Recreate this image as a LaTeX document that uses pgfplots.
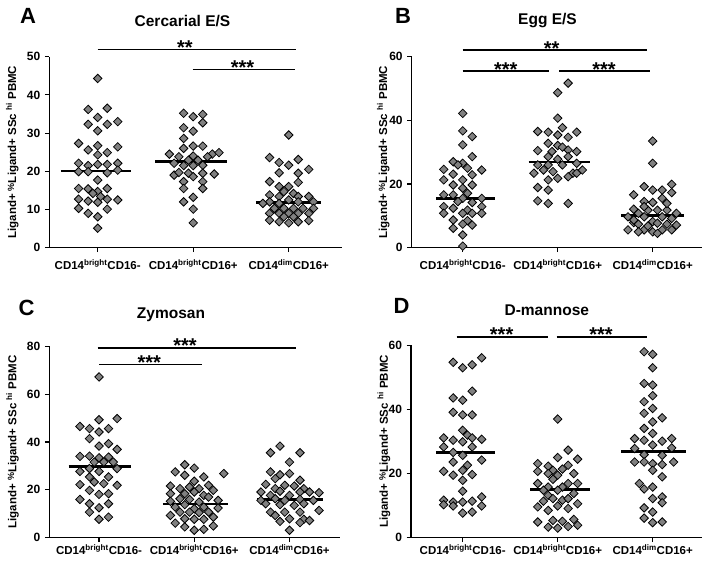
\documentclass[border=0pt]{standalone}
\usepackage{pgfplots}
\pgfplotsset{compat=1.18}
\usepackage{fontspec}
\setmainfont{Liberation Sans}
\pgfplotsset{
 gp/.style={
  scale only axis, anchor=south west,
  axis x line*=bottom, axis y line*=left,
  axis line style={line width=1.1pt,-},
  every tick/.style={black, line width=1.1pt},
  tick align=outside, major tick length=4.5pt,
  xtick={1,2,3},
  xticklabels={CD14\textsuperscript{bright}CD16-, CD14\textsuperscript{bright}CD16+, CD14\textsuperscript{dim}CD16+},
  ticklabel style={font=\bfseries\fontsize{11.5}{13}\selectfont},
  yticklabel style={font=\bfseries\fontsize{12}{13}\selectfont, xshift=-1pt},
  /pgf/number format/assume math mode=true,
  clip=false,
  ylabel={Ligand+ \raisebox{0.35ex}{\fontsize{9}{9}\selectfont\%}Ligand+ SSc \textsuperscript{hi} PBMC},
  ylabel style={anchor=center, font=\bfseries\fontsize{11.5}{13}\selectfont},
 },
 dots/.style={only marks, mark=square*, mark size=3.0pt, mark options={rotate=45, fill=gray, draw=black, line width=0.8pt}},
 med/.style={black, line width=2.6pt},
 sig/.style={black, line width=1.1pt},
}
\tikzset{stars/.style={font=\bfseries\fontsize{20}{20}\selectfont, anchor=base, inner sep=0pt, yshift=-5pt}}
\begin{document}
\begin{tikzpicture}
\useasboundingbox (0,0) rectangle (711pt,565pt);
% ---------------- A
\begin{axis}[gp, at={(49.3pt,317.3pt)}, width=292.4pt, height=191pt,
  xmin=0.493, xmax=3.555, ymin=0, ymax=50, ytick={0,10,20,30,40,50},
  xticklabel style={yshift=-4pt},
  ylabel style={at={(axis description cs:-0.1265,0.5)}}]
\addplot[dots] coordinates {
(1.00,44.3) (0.90,36.2) (1.10,36.5) (1.00,34.1) (1.21,33.0) (0.90,32.3) (1.10,32.3) (1.00,30.6) (0.80,27.3) (1.00,26.7) (1.21,26.4) (0.90,25.6) (1.10,24.9) (1.00,24.3) (0.80,22.1) (0.90,21.5) (1.00,21.8) (1.10,21.8) (1.21,22.1) (0.80,19.9) (0.90,19.9) (1.00,17.7) (1.21,20.3) (1.10,19.6) (0.80,15.5) (0.90,15.4) (1.10,15.5) (1.00,14.7) (0.95,14.2) (1.03,13.4) (1.10,12.7) (0.80,12.7) (0.90,12.2) (1.21,12.5) (1.00,11.9) (0.80,10.3) (1.10,10.1) (0.90,9.0) (1.00,8.1) (1.00,5.1)
(1.90,35.2) (2.10,34.9) (2.00,34.3) (2.10,32.7) (1.90,31.4) (2.00,30.5) (1.90,28.6) (2.00,26.6) (2.10,26.6) (1.90,26.0) (1.75,24.5) (2.20,24.5) (2.27,24.9) (1.85,23.8) (2.00,24.0) (2.15,23.8) (1.80,22.1) (1.95,22.9) (2.05,22.9) (2.10,21.6) (1.90,21.5) (1.80,19.0) (1.85,19.7) (1.95,19.5) (2.10,19.5) (2.22,19.3) (2.00,21.5) (1.90,17.3) (2.10,17.3) (2.00,18.6) (1.90,15.5) (2.10,15.5) (2.00,13.2) (1.90,12.0) (2.00,10.1) (2.00,6.5)
(3.00,29.5) (2.80,23.6) (3.10,23.1) (2.90,22.3) (3.00,21.6) (3.21,20.5) (2.90,19.6) (3.10,19.5) (2.80,17.3) (3.10,17.1) (3.00,16.0) (2.90,16.0) (2.80,13.8) (2.95,14.7) (3.05,14.2) (2.90,13.4) (3.10,13.4) (3.21,13.4) (3.00,12.5) (2.80,12.0) (2.73,11.6) (2.90,11.6) (3.10,12.0) (3.26,12.0) (2.85,10.3) (2.95,10.3) (3.05,10.3) (3.15,10.3) (3.26,10.3) (2.80,9.0) (2.90,9.0) (3.00,9.0) (3.10,9.0) (3.21,9.0) (2.80,7.2) (2.90,6.8) (3.00,6.5) (3.10,6.8) (3.21,7.1) (2.95,8.1) (3.05,8.1)
};
\addplot[med] coordinates {(0.614,20.1) (1.347,20.1)};
\addplot[med] coordinates {(1.604,22.6) (2.351,22.6)};
\addplot[med] coordinates {(2.656,11.8) (3.340,11.8)};
\addplot[sig] coordinates {(1,51.9) (3.076,51.9)};
\addplot[sig] coordinates {(1.995,46.7) (3.066,46.7)};
\node[stars] at (axis cs:1.914,51.9) {**};
\node[stars] at (axis cs:2.516,46.7) {***};
\end{axis}
% ---------------- B
\begin{axis}[gp, at={(411.7pt,317.3pt)}, width=290pt, height=191pt,
  xmin=0.463, xmax=3.516, ymin=0, ymax=60, ytick={0,20,40,60},
  xticklabel style={yshift=-4pt},
  ylabel style={at={(axis description cs:-0.098,0.5)}}]
\addplot[dots] coordinates {
(1.00,42.2) (1.00,36.7) (1.10,34.9) (1.00,32.3) (1.10,28.6) (0.90,27.0) (1.00,26.5) (0.80,24.6) (0.95,26.0) (1.05,25.0) (1.20,24.4) (0.80,21.3) (0.90,23.1) (1.10,22.9) (1.00,21.3) (0.90,19.7) (1.10,19.7) (1.00,18.7) (1.05,17.1) (0.80,16.6) (0.90,16.6) (1.20,15.5) (1.00,15.5) (0.95,14.5) (1.10,14.2) (0.80,12.9) (0.90,12.4) (1.20,12.9) (1.05,11.8) (1.00,10.8) (1.10,10.8) (0.80,10.8) (1.20,10.8) (0.90,8.7) (1.05,8.5) (1.10,7.1) (1.00,7.4) (0.90,6.1) (1.00,4.0) (1.00,0.5)
(2.11,51.7) (2.00,48.7) (2.00,40.7) (2.05,37.7) (1.79,36.5) (1.90,36.3) (2.20,36.3) (2.11,34.7) (2.00,35.4) (1.90,32.8) (2.00,32.1) (1.79,30.5) (2.11,30.7) (2.20,30.2) (1.94,30.2) (2.05,31.6) (1.90,28.6) (2.00,27.8) (2.11,28.6) (1.79,26.0) (1.90,26.0) (2.05,26.0) (2.20,26.5) (1.85,24.4) (2.26,24.4) (1.75,23.4) (1.95,23.9) (2.16,23.4) (2.00,21.8) (2.11,22.3) (1.90,21.3) (1.79,18.9) (1.90,18.1) (1.79,14.7) (1.90,13.9) (2.11,13.9) (2.20,23.4)
(3.00,33.5) (3.00,26.5) (2.91,19.2) (3.20,19.9) (2.80,16.6) (3.10,18.1) (3.00,18.1) (3.20,17.3) (2.91,14.5) (3.10,15.5) (2.80,12.1) (3.00,14.2) (2.85,10.8) (2.95,11.8) (3.05,11.8) (3.15,11.8) (3.25,10.8) (2.74,9.7) (2.91,9.7) (3.10,9.7) (3.20,9.2) (2.80,7.9) (3.00,8.2) (2.85,7.4) (3.05,7.7) (3.25,7.1) (2.74,5.6) (2.91,5.6) (3.00,5.0) (3.10,5.6) (3.20,5.6) (2.80,8.7) (2.95,6.8) (3.15,7.4) (2.85,5.0) (3.05,4.5) (2.91,12.9) (3.15,13.9)
};
\addplot[med] coordinates {(0.72,15.5) (1.34,15.5)};
\addplot[med] coordinates {(1.695,26.9) (2.344,26.9)};
\addplot[med] coordinates {(2.67,10.2) (3.33,10.2)};
\addplot[sig] coordinates {(1,62.1) (2.943,62.1)};
\addplot[sig] coordinates {(1,55.5) (1.912,55.5)};
\addplot[sig] coordinates {(2.014,55.5) (2.97,55.5)};
\node[stars] at (axis cs:1.937,62.1) {**};
\node[stars] at (axis cs:1.453,55.5) {***};
\node[stars] at (axis cs:2.487,55.5) {***};
\end{axis}
% ---------------- C
\begin{axis}[gp, at={(49.3pt,27.3pt)}, width=290.7pt, height=191.4pt,
  xmin=0.478, xmax=3.53, ymin=0, ymax=80, ytick={0,20,40,60,80},
  xticklabel style={yshift=1pt},
  ylabel style={at={(axis description cs:-0.1266,0.5)}}]
\addplot[dots] coordinates {
(1.00,67.2) (0.80,46.5) (1.00,49.3) (1.19,49.8) (0.90,45.6) (1.00,44.2) (1.10,45.6) (0.90,41.4) (1.10,39.3) (1.00,38.3) (1.19,36.9) (0.80,34.0) (0.90,34.1) (1.00,33.4) (1.10,33.7) (0.95,31.6) (1.05,31.6) (1.15,31.6) (0.90,28.9) (0.80,27.7) (1.00,27.7) (1.19,28.9) (0.90,25.4) (1.10,25.4) (0.95,23.3) (1.05,22.6) (0.80,22.2) (1.19,21.9) (0.90,19.8) (1.10,18.4) (1.00,18.1) (0.80,16.0) (0.90,14.2) (1.10,14.2) (1.00,12.5) (0.90,10.7) (1.10,8.6) (1.00,7.7)
(1.90,30.5) (2.00,29.1) (1.80,27.5) (2.31,26.8) (1.90,26.1) (2.10,25.4) (2.00,23.6) (1.75,21.6) (1.85,20.5) (1.95,21.2) (2.05,20.5) (2.15,21.9) (2.20,19.8) (1.75,18.4) (1.90,18.4) (2.00,19.1) (2.10,17.7) (1.85,16.3) (2.15,17.0) (1.95,16.0) (2.05,14.9) (1.75,15.2) (2.25,15.6) (1.80,12.8) (1.90,13.8) (2.00,12.1) (2.10,12.8) (2.25,12.4) (1.85,10.7) (1.95,10.7) (2.05,10.5) (2.15,10.7) (1.75,9.3) (2.20,8.6) (1.90,7.9) (2.00,7.7) (2.10,7.7) (1.80,6.1) (1.90,4.5) (2.20,4.9) (2.00,3.1) (2.10,3.5)
(2.90,38.3) (2.80,35.5) (3.11,35.5) (3.00,31.6) (2.80,27.5) (2.90,26.3) (3.11,24.0) (3.00,26.8) (2.85,24.7) (2.75,22.3) (2.95,21.9) (3.05,21.6) (2.85,20.5) (3.15,20.5) (2.70,19.1) (2.90,19.4) (3.11,19.1) (3.21,19.1) (2.80,17.7) (3.00,17.7) (3.31,18.8) (2.70,15.6) (2.85,16.3) (2.95,15.6) (3.11,16.0) (3.25,15.6) (2.75,14.2) (2.90,13.8) (3.05,13.5) (3.15,14.2) (2.80,10.7) (2.95,10.7) (3.11,10.7) (3.31,11.4) (2.85,9.3) (3.00,7.9) (2.90,6.8) (3.15,7.7) (3.11,6.3) (3.21,7.2) (3.00,3.1)
};
\addplot[med] coordinates {(0.68,29.7) (1.34,29.7)};
\addplot[med] coordinates {(1.67,14.1) (2.35,14.1)};
\addplot[med] coordinates {(2.66,16.0) (3.35,16.0)};
\addplot[sig] coordinates {(0.986,79.3) (3.069,79.3)};
\addplot[sig] coordinates {(1,72.3) (2.079,72.3)};
\node[stars] at (axis cs:1.903,79.3) {***};
\node[stars] at (axis cs:1.528,72.3) {***};
\end{axis}
% ---------------- D
\begin{axis}[gp, at={(411pt,27.3pt)}, width=290.7pt, height=192.4pt,
  xmin=0.456, xmax=3.516, ymin=0, ymax=60, ytick={0,20,40,60},
  xticklabel style={yshift=1pt},
  ylabel style={at={(axis description cs:-0.093,0.5)}}]
\addplot[dots] coordinates {
(1.20,56.1) (0.90,54.7) (1.10,53.9) (1.00,53.0) (1.10,45.7) (0.90,43.6) (1.00,42.9) (0.90,39.1) (1.10,38.3) (1.00,38.3) (1.00,33.5) (1.05,32.0) (0.80,31.1) (0.90,30.4) (1.10,31.1) (1.20,30.7) (1.00,29.9) (0.80,28.3) (1.10,28.3) (0.90,26.6) (1.00,25.7) (1.20,24.2) (0.90,23.6) (1.05,22.6) (0.80,20.7) (1.00,21.0) (1.10,19.7) (0.90,19.5) (1.00,17.9) (1.00,14.5) (1.20,12.7) (0.80,11.7) (1.10,11.4) (0.90,11.1) (1.00,11.1) (0.80,10.3) (0.90,9.9) (1.20,9.9) (1.00,7.7) (1.10,8.0)
(2.00,37.0) (2.11,27.3) (2.00,25.0) (2.21,24.5) (1.79,23.1) (1.90,22.3) (2.11,22.6) (1.95,21.0) (2.05,21.4) (1.79,20.7) (1.90,20.0) (2.17,20.0) (2.00,19.5) (1.95,18.2) (1.79,16.9) (2.21,16.9) (1.90,15.8) (2.05,15.8) (2.11,16.9) (2.00,14.8) (1.85,14.8) (2.17,13.8) (1.90,13.2) (1.95,12.2) (2.05,11.7) (2.11,12.2) (1.85,11.4) (2.21,10.6) (1.79,9.6) (2.00,9.9) (1.90,8.5) (2.11,9.1) (1.79,4.9) (1.95,5.4) (2.05,5.1) (2.17,5.7) (1.90,3.3) (2.00,3.0) (2.11,3.5) (2.21,3.9)
(2.91,58.0) (3.00,57.2) (3.00,53.0) (2.91,48.1) (3.00,47.6) (3.00,44.3) (2.91,42.4) (3.00,40.3) (3.10,37.4) (2.91,38.8) (3.00,36.1) (2.91,34.1) (3.00,32.5) (2.81,30.9) (2.91,30.4) (3.20,30.9) (3.10,30.1) (2.81,27.8) (3.00,28.9) (3.20,28.0) (2.91,25.9) (3.10,25.7) (2.81,23.6) (2.91,23.6) (3.22,23.6) (3.00,23.1) (3.10,22.8) (3.00,21.0) (3.10,19.0) (2.86,16.9) (2.91,15.2) (3.00,15.8) (3.00,12.2) (3.10,12.7) (3.10,10.9) (2.91,9.3) (3.00,8.0) (2.91,6.1) (3.10,4.9) (3.00,4.7)
};
\addplot[med] coordinates {(0.72,26.6) (1.34,26.6)};
\addplot[med] coordinates {(1.71,15.1) (2.34,15.1)};
\addplot[med] coordinates {(2.67,26.8) (3.35,26.8)};
\addplot[sig] coordinates {(0.937,62.6) (1.895,62.6)};
\addplot[sig] coordinates {(1.99,62.6) (2.943,62.6)};
\node[stars] at (axis cs:1.41,62.6) {***};
\node[stars] at (axis cs:2.456,62.6) {***};
\end{axis}
% ---------------- titles and panel letters
\tikzset{ttl/.style={font=\bfseries\fontsize{15.5}{16}\selectfont, anchor=base, inner sep=0pt},
         lett/.style={font=\bfseries\fontsize{22}{22}\selectfont, anchor=base west, inner sep=0pt}}
\node[ttl] at (182.5pt,538.3pt) {Cercarial E/S};
\node[ttl] at (547.5pt,540pt) {Egg E/S};
\node[ttl] at (171pt,246.3pt) {Zymosan};
\node[ttl] at (546.8pt,249.7pt) {D-mannose};
\node[lett] at (20pt,541.7pt) {A};
\node[lett] at (395pt,541.7pt) {B};
\node[lett] at (18.3pt,249.7pt) {C};
\node[lett] at (393.3pt,251.3pt) {D};
\end{tikzpicture}
\end{document}
